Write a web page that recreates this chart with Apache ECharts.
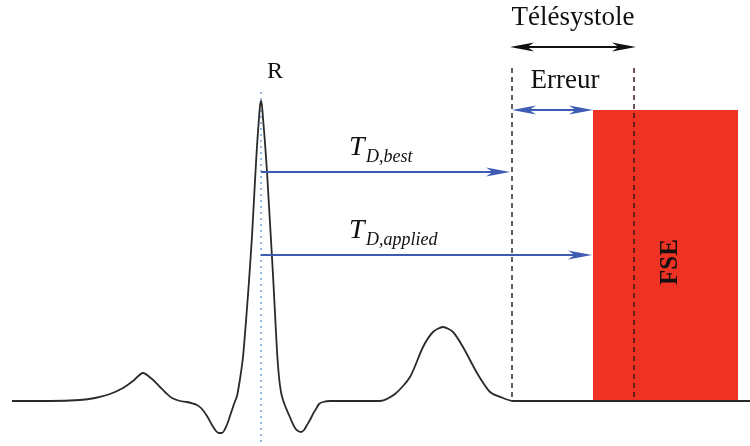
<!DOCTYPE html>
<html>
<head>
<meta charset="utf-8">
<script src="https://cdn.jsdelivr.net/npm/echarts@6/dist/echarts.min.js"></script>
<style>html,body{margin:0;padding:0;background:#fff}#c{width:750px;height:446px}</style>
</head>
<body>
<div id="c"></div>
<script>
// ECG trace (time units, amplitude units; baseline = 0)
const ecgTime = [12,50,80,95,110,123,133,143,152,160,166,172,180,187,197,202,207,212,216,219,222,225,228,231,234,237,240,243,246,249,252,255,257,259,260,261,262,263,265,267,269,271,273,275,277,279,281,283,286,289,292,295,298,301,304,307,310,313,316,319,323,330,380,395,410,423,433,443,453,463,477,490,503,513,750];
const ecgAmp  = [0,0,1,3,7,13,20,28,22,14,8,3,0,-1,-4,-8,-15,-24,-30,-32,-32,-28,-21,-12,-3,5,22,44,80,120,165,220,255,283,295,300,295,283,258,229,195,161,126,88,50,24,9,1,-7,-14,-21,-27,-30,-31,-29,-24,-19,-13,-8,-3,-1,0,0,7,24,54,69,74,69,54,28,9,3,0,0];

// Annotations (same time / amplitude units)
const rPeakTime = 261;
const telesystoleStart = 512, telesystoleEnd = 634;
const fseStart = 593, fseEnd = 738, fseTop = 291;
const tdBestEnd = 510, tdAppliedEnd = 592;
const tdBestLevel = 229, tdAppliedLevel = 146, erreurLevel = 291, telesystoleLevel = 354;
const markerTop = 333, rMarkerTop = 309, rMarkerBottom = -45;
const labels = ['R', 'Télésystole', 'Erreur', 'FSE', 'T', 'D,best', 'D,applied'];

const SERIF = '"Liberation Serif","DejaVu Serif",serif';
const BLUE = '#3e5cb4';

function arrowItem(color, width, headLen, headW) {
  return function (params, api) {
    const a = api.coord([api.value(0), api.value(2)]);
    const b = api.coord([api.value(1), api.value(2)]);
    const startHead = api.value(3), endHead = api.value(4);
    const children = [];
    const x1 = a[0] + (startHead ? headLen * 0.6 : 0);
    const x2 = b[0] - (endHead ? headLen * 0.6 : 0);
    children.push({type: 'line', shape: {x1: x1, y1: a[1], x2: x2, y2: b[1]},
      style: {stroke: color, lineWidth: width}});
    function head(tipX, y, dir) {
      return {type: 'polygon', shape: {points: [
        [tipX, y], [tipX - dir * headLen, y - headW / 2],
        [tipX - dir * headLen * 0.72, y], [tipX - dir * headLen, y + headW / 2]]},
        style: {fill: color}};
    }
    if (endHead) children.push(head(b[0], b[1], 1));
    if (startHead) children.push(head(a[0], a[1], -1));
    return {type: 'group', children: children};
  };
}

function textSeries(items) {
  return {
    type: 'custom', z: 20, silent: true,
    data: items.map(function (it, i) { return [it.x, it.y, i]; }),
    renderItem: function (params, api) {
      const it = items[api.value(2)];
      const p = api.coord([api.value(0), api.value(1)]);
      return {type: 'text', x: p[0], y: p[1], rotation: it.rot || 0,
        style: {text: it.text, font: it.font, fill: '#111',
          align: it.align || 'center', verticalAlign: it.va || 'middle'}};
    }
  };
}

const chart = echarts.init(document.getElementById('c'), null, {renderer: 'canvas'});
chart.setOption({
  animation: false,
  backgroundColor: '#ffffff',
  grid: {left: 0, right: 0, top: 0, bottom: 0},
  xAxis: {type: 'value', min: 0, max: 750, show: false},
  yAxis: {type: 'value', min: -45, max: 401, show: false},
  series: [
    { // FSE block
      type: 'custom', z: 1, silent: true,
      data: [[fseStart, fseEnd, fseTop]],
      renderItem: function (params, api) {
        const a = api.coord([api.value(0), api.value(2)]);
        const b = api.coord([api.value(1), 0]);
        return {type: 'rect', shape: {x: a[0], y: a[1], width: b[0] - a[0], height: b[1] - a[1]},
          style: {fill: '#ee3224'}};
      }
    },
    { // R marker dotted
      type: 'line', z: 2, silent: true, showSymbol: false,
      data: [[rPeakTime, rMarkerTop], [rPeakTime, rMarkerBottom]],
      lineStyle: {color: '#8fb9de', width: 2, type: [2, 4]}
    },
    { // telesystole start dashed
      type: 'line', z: 3, silent: true, showSymbol: false,
      data: [[telesystoleStart, markerTop], [telesystoleStart, 0]],
      lineStyle: {color: '#2b2b2b', width: 1.5, type: [5, 4]}
    },
    { // telesystole end dashed
      type: 'line', z: 3, silent: true, showSymbol: false,
      data: [[telesystoleEnd, markerTop], [telesystoleEnd, 0]],
      lineStyle: {color: '#3a1a14', width: 1.5, type: [5, 4]}
    },
    { // ECG
      type: 'line', z: 5, silent: true, showSymbol: false, smooth: 0.25,
      data: ecgTime.map(function (t, i) { return [t, ecgAmp[i]]; }),
      lineStyle: {color: '#2a2a2a', width: 1.8}
    },
    { // blue arrows
      type: 'custom', z: 6, silent: true,
      data: [
        [rPeakTime, tdBestEnd, tdBestLevel, 0, 1],
        [rPeakTime, tdAppliedEnd, tdAppliedLevel, 0, 1],
        [telesystoleStart, fseStart, erreurLevel, 1, 1]
      ],
      renderItem: arrowItem(BLUE, 2, 24, 9)
    },
    { // black telesystole arrow
      type: 'custom', z: 6, silent: true,
      data: [[telesystoleStart - 2, telesystoleEnd + 2, telesystoleLevel, 1, 1]],
      renderItem: arrowItem('#111111', 2, 24, 9)
    },
    textSeries([
      {text: labels[0], x: 275, y: 329, font: '24px ' + SERIF},
      {text: labels[1], x: 573, y: 383, font: '27px ' + SERIF},
      {text: labels[2], x: 565, y: 320, font: '27px ' + SERIF},
      {text: labels[3], x: 671, y: 139, font: 'bold 25px ' + SERIF, rot: Math.PI / 2},
      {text: labels[4], x: 349, y: 239, font: 'italic 28px ' + SERIF, align: 'left', va: 'bottom'},
      {text: labels[5], x: 366, y: 235, font: 'italic 18px ' + SERIF, align: 'left', va: 'bottom'},
      {text: labels[4], x: 349, y: 156, font: 'italic 28px ' + SERIF, align: 'left', va: 'bottom'},
      {text: labels[6], x: 366, y: 152, font: 'italic 18px ' + SERIF, align: 'left', va: 'bottom'}
    ])
  ]
});
</script>
</body>
</html>
